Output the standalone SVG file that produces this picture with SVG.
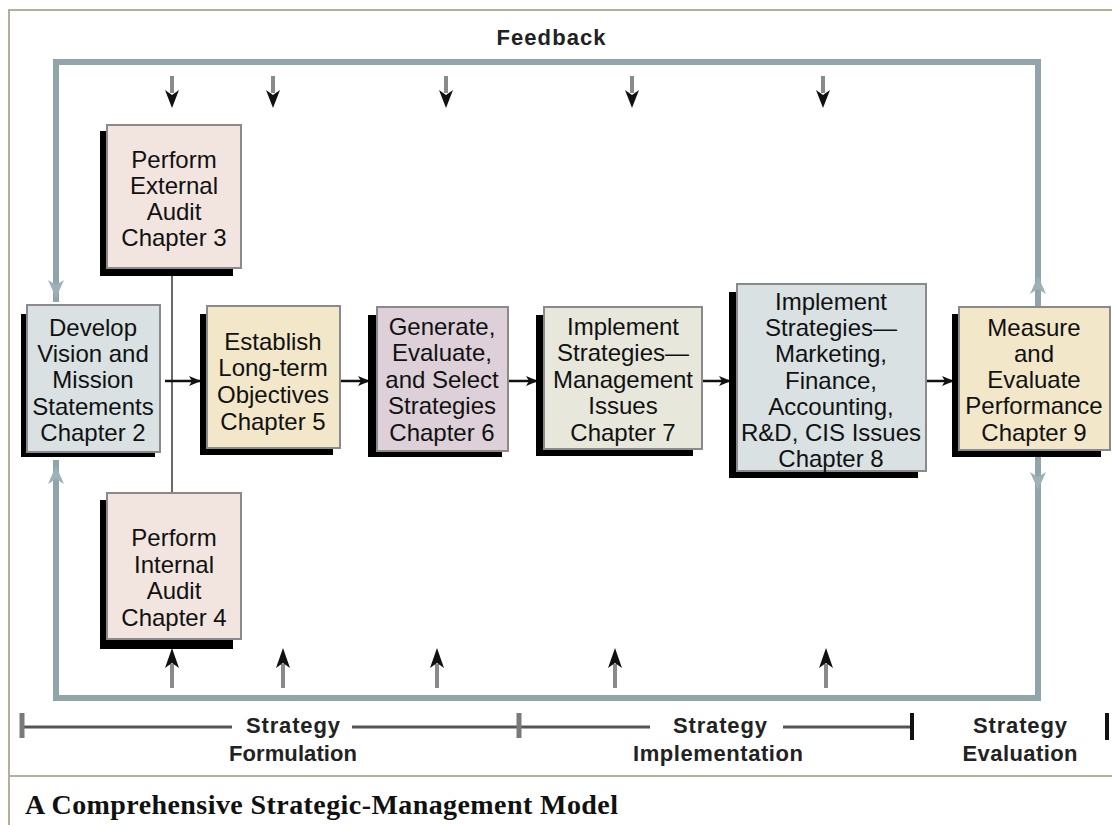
<svg xmlns="http://www.w3.org/2000/svg" width="1112" height="825" viewBox="0 0 1112 825">
<defs>
<style>
.frame{stroke:#b3af98;stroke-width:2;fill:none}
.loop{stroke:#8fa5a9;stroke-width:6;fill:none}
.loophead{fill:#9db2b6}
.shadow{fill:#000}
.box{stroke:#8a8a8a;stroke-width:2}
.t{font-family:"Liberation Sans",Arial,sans-serif;font-size:24px;fill:#111;text-anchor:middle}
.lbl{font-family:"Liberation Sans",Arial,sans-serif;font-size:22px;font-weight:bold;fill:#222;text-anchor:middle}
.conn{stroke:#111;stroke-width:2.5;fill:none}
.shaft{stroke:#8a8a8a;stroke-width:4;fill:none}
.head{fill:#111}
.bar{stroke:#555;stroke-width:3;fill:none}
.tickg{stroke:#7a7a7a;stroke-width:5}
.tickb{stroke:#111;stroke-width:4}
.cap{font-family:"Liberation Serif","Times New Roman",serif;font-size:28px;font-weight:bold;fill:#111}
</style>
<marker id="ah" viewBox="0 0 12 10" refX="11" refY="5" markerWidth="12" markerHeight="10" markerUnits="userSpaceOnUse" orient="auto">
<path d="M0,0 L12,5 L0,10 L3,5 z" fill="#111"/>
</marker>
</defs>
<rect x="0" y="0" width="1112" height="825" fill="#fff"/>
<g id="frame">
<path class="frame" d="M9,825 V10 H1112"/>
<path class="frame" d="M9,776 H1112"/>
</g>
<text class="lbl" x="551" y="45" font-size="24" textLength="109">Feedback</text>
<g id="connectors">
<path class="loop" d="M1038,307 V62 H56 V302"/>
<path class="loop" d="M1038,457 V698 H56 V460"/>
<path class="loophead" d="M56,298 L48,280 L56,285 L64,280 Z"/>
<path class="loophead" d="M1038,276 L1030,294 L1038,289 L1046,294 Z"/>
<path class="loophead" d="M1038,490 L1030,472 L1038,477 L1046,472 Z"/>
<path class="loophead" d="M56,466 L48,484 L56,479 L64,484 Z"/>
<line x1="172" y1="268" x2="172" y2="493" stroke="#6a6a6a" stroke-width="2"/>
<line class="conn" x1="165" y1="381" x2="200" y2="381" marker-end="url(#ah)"/>
<line class="conn" x1="340" y1="381" x2="369" y2="381" marker-end="url(#ah)"/>
<line class="conn" x1="508" y1="381" x2="537" y2="381" marker-end="url(#ah)"/>
<line class="conn" x1="702" y1="381" x2="730" y2="381" marker-end="url(#ah)"/>
<line class="conn" x1="926" y1="381" x2="953" y2="381" marker-end="url(#ah)"/>
<g id="top-arrows">
<line class="shaft" x1="172" y1="76" x2="172" y2="93"/><path class="head" d="M172,108 L165,90 L172,95 L179,90 Z"/>
<line class="shaft" x1="273" y1="76" x2="273" y2="93"/><path class="head" d="M273,108 L266,90 L273,95 L280,90 Z"/>
<line class="shaft" x1="446" y1="76" x2="446" y2="93"/><path class="head" d="M446,108 L439,90 L446,95 L453,90 Z"/>
<line class="shaft" x1="632" y1="76" x2="632" y2="93"/><path class="head" d="M632,108 L625,90 L632,95 L639,90 Z"/>
<line class="shaft" x1="823" y1="76" x2="823" y2="93"/><path class="head" d="M823,108 L816,90 L823,95 L830,90 Z"/>
</g>
<g id="bottom-arrows">
<line class="shaft" x1="172" y1="688" x2="172" y2="664"/><path class="head" d="M172,648 L165,668 L172,663 L179,668 Z"/>
<line class="shaft" x1="283" y1="688" x2="283" y2="664"/><path class="head" d="M283,648 L276,668 L283,663 L290,668 Z"/>
<line class="shaft" x1="437" y1="688" x2="437" y2="664"/><path class="head" d="M437,648 L430,668 L437,663 L444,668 Z"/>
<line class="shaft" x1="615" y1="688" x2="615" y2="664"/><path class="head" d="M615,648 L608,668 L615,663 L622,668 Z"/>
<line class="shaft" x1="826" y1="688" x2="826" y2="664"/><path class="head" d="M826,648 L819,668 L826,663 L833,668 Z"/>
</g>
</g>
<g id="ext-audit">
<rect class="shadow" x="100" y="131" width="133" height="145"/>
<rect class="box" x="107" y="125" width="134" height="143" fill="#f2e5e0"/>
<text class="t" x="174" y="168">Perform</text>
<text class="t" x="174" y="194">External</text>
<text class="t" x="174" y="220">Audit</text>
<text class="t" x="174" y="246">Chapter 3</text>
</g>
<g id="develop">
<rect class="shadow" x="21" y="314" width="134" height="143"/>
<rect class="box" x="27" y="305" width="133" height="147" fill="#d9e1e3"/>
<text class="t" x="93" y="336">Develop</text>
<text class="t" x="93" y="362">Vision and</text>
<text class="t" x="93" y="388">Mission</text>
<text class="t" x="93" y="415">Statements</text>
<text class="t" x="93" y="441">Chapter 2</text>
</g>
<g id="establish">
<rect class="shadow" x="200" y="314" width="133" height="141"/>
<rect class="box" x="207" y="306" width="133" height="142" fill="#f3e7c9"/>
<text class="t" x="273" y="350">Establish</text>
<text class="t" x="273" y="376">Long-term</text>
<text class="t" x="273" y="403">Objectives</text>
<text class="t" x="273" y="430">Chapter 5</text>
</g>
<g id="generate">
<rect class="shadow" x="368" y="315" width="134" height="142"/>
<rect class="box" x="377" y="307" width="131" height="144" fill="#ddd0d8"/>
<text class="t" x="442" y="335">Generate,</text>
<text class="t" x="442" y="361">Evaluate,</text>
<text class="t" x="442" y="388">and Select</text>
<text class="t" x="442" y="414">Strategies</text>
<text class="t" x="442" y="441">Chapter 6</text>
</g>
<g id="implement-mgmt">
<rect class="shadow" x="536" y="315" width="157" height="141"/>
<rect class="box" x="544" y="307" width="158" height="142" fill="#e7e7dc"/>
<text class="t" x="623" y="335">Implement</text>
<text class="t" x="623" y="361">Strategies—</text>
<text class="t" x="623" y="388">Management</text>
<text class="t" x="623" y="414">Issues</text>
<text class="t" x="623" y="441">Chapter 7</text>
</g>
<g id="implement-functional">
<rect class="shadow" x="729" y="292" width="189" height="186"/>
<rect class="box" x="737" y="284" width="189" height="187" fill="#d9e1e3"/>
<text class="t" x="831" y="310">Implement</text>
<text class="t" x="831" y="336">Strategies—</text>
<text class="t" x="831" y="362">Marketing,</text>
<text class="t" x="831" y="389">Finance,</text>
<text class="t" x="831" y="415">Accounting,</text>
<text class="t" x="831" y="441">R&amp;D, CIS Issues</text>
<text class="t" x="831" y="467">Chapter 8</text>
</g>
<g id="measure">
<rect class="shadow" x="952" y="314" width="149" height="143"/>
<rect class="box" x="959" y="307" width="151" height="143" fill="#f3e7c9"/>
<text class="t" x="1034" y="336">Measure</text>
<text class="t" x="1034" y="362">and</text>
<text class="t" x="1034" y="388">Evaluate</text>
<text class="t" x="1034" y="414">Performance</text>
<text class="t" x="1034" y="441">Chapter 9</text>
</g>
<g id="int-audit">
<rect class="shadow" x="100" y="500" width="133" height="149"/>
<rect class="box" x="107" y="493" width="134" height="146" fill="#f2e5e0"/>
<text class="t" x="174" y="546">Perform</text>
<text class="t" x="174" y="573">Internal</text>
<text class="t" x="174" y="599">Audit</text>
<text class="t" x="174" y="626">Chapter 4</text>
</g>
<g id="phase-bar">
<line class="bar" x1="22" y1="727" x2="232" y2="727"/>
<line class="bar" x1="352" y1="727" x2="650" y2="727"/>
<line class="bar" x1="783" y1="727" x2="912" y2="727"/>
<line class="tickg" x1="22" y1="713" x2="22" y2="738"/>
<line class="tickg" x1="519" y1="713" x2="519" y2="738"/>
<line class="tickb" x1="912" y1="713" x2="912" y2="740"/>
<line class="tickb" x1="1107" y1="713" x2="1107" y2="740"/>
<text class="lbl" x="293" y="733" textLength="94">Strategy</text>
<text class="lbl" x="293" y="761" textLength="128">Formulation</text>
<text class="lbl" x="720" y="733" textLength="94">Strategy</text>
<text class="lbl" x="718" y="761" textLength="170">Implementation</text>
<text class="lbl" x="1020" y="733" textLength="94">Strategy</text>
<text class="lbl" x="1020" y="761" textLength="115">Evaluation</text>
</g>
<text class="cap" x="25" y="814" textLength="593">A Comprehensive Strategic-Management Model</text>
</svg>
